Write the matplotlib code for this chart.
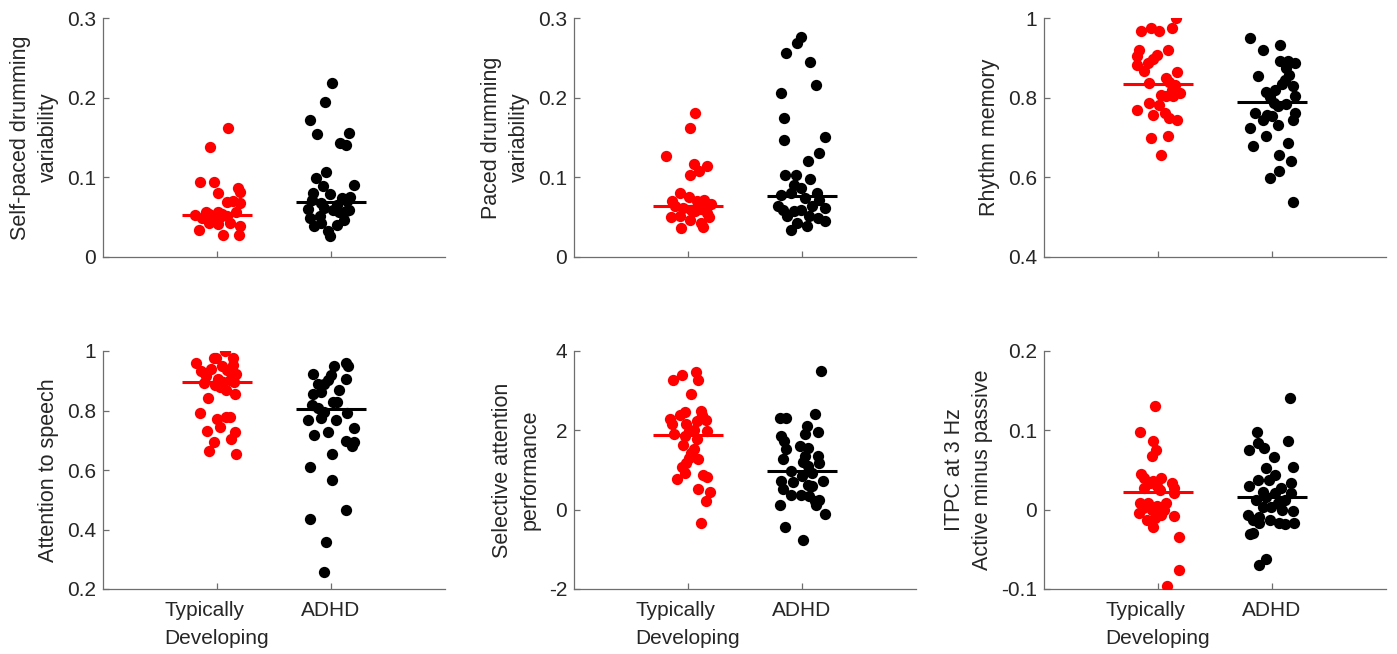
import numpy as np
import matplotlib
matplotlib.use("Agg")
import matplotlib.pyplot as plt

plt.rcParams['font.family'] = ['Liberation Sans', 'DejaVu Sans']
plt.rcParams['axes.unicode_minus'] = False

groups = ["Typically\nDeveloping", "ADHD"]
ylabels = ["Self-paced drumming\nvariability", "Paced drumming\nvariability", "Rhythm memory",
           "Attention to speech", "Selective attention\nperformance", "ITPC at 3 Hz\nActive minus passive"]

# per-participant values (x jitter, y) for each measure
selfpaced_td_x = [0.10, -0.06, -0.15, -0.03, 0.01, 0.18, 0.20, 0.09, 0.14, 0.20, -0.19, -0.10, -0.07, 0.01,
                  0.04, 0.09, 0.17, -0.13, -0.05, 0.02, -0.16, -0.07, 0.01, 0.11, 0.20, 0.05, 0.19, -0.02]
selfpaced_td_y = [0.1615, 0.138, 0.094, 0.094, 0.080, 0.086, 0.082, 0.069, 0.070, 0.068, 0.053, 0.0565, 0.054, 0.057,
                  0.054, 0.051, 0.0565, 0.049, 0.047, 0.049, 0.034, 0.0427, 0.0415, 0.0427, 0.039, 0.027, 0.027, 0.045]
selfpaced_adhd_x = [0.01, -0.05, -0.18, -0.12, 0.16, 0.08, 0.13, -0.04, -0.13, -0.07, 0.20, -0.16, -0.01, 0.10, 0.17,
                    -0.17, -0.09, 0.05, 0.14, -0.20, -0.06, 0.02, 0.16, 0.13, -0.18, -0.10, 0.11, -0.15, 0.05, -0.03,
                    -0.01, 0.07, -0.09]
selfpaced_adhd_y = [0.218, 0.194, 0.1715, 0.155, 0.1556, 0.143, 0.141, 0.107, 0.099, 0.0887, 0.090, 0.080, 0.079, 0.074,
                    0.075, 0.072, 0.0678, 0.0657, 0.0699, 0.0607, 0.0615, 0.0594, 0.0594, 0.0573, 0.049, 0.051, 0.046,
                    0.0385, 0.0406, 0.033, 0.026, 0.056, 0.0427]

paced_td_x = [0.06, 0.02, -0.19, 0.05, 0.17, 0.10, 0.02, -0.07, 0.01, -0.14, 0.08, 0.14, 0.20, -0.11, -0.04, 0.03,
              0.11, 0.17, -0.15, -0.07, 0.02, 0.18, 0.06, -0.06, 0.13, 0.11]
paced_td_y = [0.181, 0.162, 0.127, 0.117, 0.114, 0.108, 0.1025, 0.080, 0.075, 0.070, 0.070, 0.071, 0.066, 0.0636,
              0.0615, 0.0594, 0.0603, 0.0552, 0.050, 0.051, 0.0469, 0.050, 0.0573, 0.0364, 0.0372, 0.0427]
paced_adhd_x = [-0.01, -0.04, -0.14, 0.07, 0.12, -0.18, -0.16, -0.16, 0.20, 0.15, 0.05, -0.15, -0.05, 0.07, -0.07,
                -0.01, -0.18, -0.10, 0.13, 0.03, 0.15, -0.21, -0.17, -0.07, -0.01, 0.09, 0.20, -0.13, 0.06, 0.14,
                0.20, -0.10, 0.04, -0.04]
paced_adhd_y = [0.2757, 0.2686, 0.256, 0.2444, 0.2155, 0.206, 0.175, 0.147, 0.151, 0.131, 0.121, 0.103, 0.103, 0.098,
                0.0908, 0.0866, 0.0782, 0.0803, 0.0803, 0.074, 0.072, 0.0636, 0.0594, 0.0573, 0.0594, 0.0636, 0.0615,
                0.051, 0.0519, 0.049, 0.0448, 0.0343, 0.0385, 0.0427]

rhythm_td_x = [0.16, 0.12, -0.15, -0.06, 0.01, 0.09, -0.17, -0.18, -0.01, -0.04, -0.18, -0.09, -0.12, 0.17, 0.07,
               -0.08, 0.10, 0.15, 0.12, 0.03, 0.07, 0.19, 0.13, -0.08, 0.01, -0.18, 0.06, -0.04, 0.10, 0.17, -0.06,
               0.09, 0.03]
rhythm_td_y = [1.0, 0.975, 0.968, 0.975, 0.968, 0.919, 0.919, 0.904, 0.908, 0.897, 0.881, 0.887, 0.866, 0.864, 0.849,
               0.837, 0.839, 0.833, 0.820, 0.807, 0.803, 0.811, 0.805, 0.787, 0.782, 0.770, 0.762, 0.756, 0.749, 0.743,
               0.700, 0.705, 0.655]
rhythm_adhd_x = [-0.19, 0.07, -0.08, 0.07, 0.14, 0.20, 0.12, -0.12, 0.15, 0.11, 0.09, 0.18, 0.03, -0.05, 0.20, -0.02,
                 0.02, 0.12, 0.05, -0.15, -0.04, 0.20, -0.08, 0.00, 0.18, 0.05, -0.19, -0.05, 0.14, -0.17, 0.06, 0.17,
                 0.06, -0.02, 0.18]
rhythm_adhd_y = [0.95, 0.931, 0.919, 0.891, 0.891, 0.887, 0.874, 0.855, 0.858, 0.845, 0.835, 0.829, 0.820, 0.813, 0.805,
                 0.802, 0.787, 0.785, 0.778, 0.762, 0.757, 0.762, 0.743, 0.753, 0.743, 0.732, 0.724, 0.705, 0.686, 0.679,
                 0.655, 0.642, 0.615, 0.598, 0.537]

speech_td_x = [0.07, -0.18, -0.03, -0.01, 0.14, 0.14, -0.14, -0.05, 0.04, 0.09, 0.17, -0.10, 0.01, 0.05, 0.11, 0.15,
               -0.11, -0.02, 0.03, 0.08, 0.16, -0.08, -0.15, 0.00, 0.08, 0.11, 0.03, -0.09, 0.16, -0.03, 0.12, -0.07,
               0.17]
speech_td_y = [1.0, 0.961, 0.978, 0.975, 0.975, 0.952, 0.933, 0.941, 0.949, 0.935, 0.924, 0.915, 0.907, 0.896, 0.902,
               0.896, 0.893, 0.885, 0.879, 0.868, 0.857, 0.843, 0.792, 0.770, 0.779, 0.779, 0.743, 0.731, 0.728, 0.695,
               0.704, 0.665, 0.654]
speech_adhd_x = [0.13, 0.15, 0.03, -0.16, 0.00, 0.13, -0.03, -0.06, -0.11, 0.07, -0.16, -0.09, 0.02, -0.17, 0.05,
                 -0.11, -0.06, 0.14, -0.20, -0.09, 0.04, 0.20, -0.03, -0.15, 0.13, 0.20, 0.18, 0.01, -0.18, 0.01, 0.13,
                 -0.18, -0.04, -0.06]
speech_adhd_y = [0.96, 0.949, 0.949, 0.922, 0.918, 0.907, 0.901, 0.890, 0.890, 0.870, 0.857, 0.863, 0.829, 0.818, 0.829,
                 0.807, 0.796, 0.792, 0.768, 0.776, 0.768, 0.742, 0.728, 0.717, 0.697, 0.695, 0.680, 0.654, 0.609, 0.568,
                 0.464, 0.435, 0.358, 0.256]

selattn_td_x = [0.07, 0.09, -0.13, -0.05, 0.03, -0.03, 0.11, 0.12, -0.07, -0.16, -0.14, 0.16, 0.08, -0.02, 0.05, 0.17,
                0.01, -0.12, -0.03, 0.08, -0.04, 0.05, 0.03, 0.01, 0.09, -0.02, -0.05, -0.03, 0.13, 0.17, -0.10, 0.09,
                0.19, 0.16, 0.11]
selattn_td_y = [3.48, 3.26, 3.27, 3.39, 2.91, 2.47, 2.49, 2.38, 2.38, 2.29, 2.15, 2.27, 2.23, 2.15, 2.02, 1.98, 1.98,
                1.90, 1.85, 1.77, 1.62, 1.52, 1.43, 1.31, 1.27, 1.18, 1.07, 0.93, 0.87, 0.82, 0.785, 0.525, 0.44, 0.213,
                -0.342]
selattn_adhd_x = [0.17, 0.11, -0.19, -0.14, 0.04, 0.14, 0.03, -0.18, -0.16, -0.02, 0.05, -0.14, 0.14, 0.03, -0.17, 0.01,
                  0.15, 0.05, -0.10, 0.09, 0.00, -0.18, -0.08, 0.05, 0.18, 0.09, -0.17, -0.10, -0.01, 0.06, 0.11, 0.15,
                  0.12, -0.19, 0.20, -0.15, 0.01]
selattn_adhd_y = [3.495, 2.40, 2.30, 2.30, 2.11, 1.96, 1.91, 1.85, 1.73, 1.60, 1.56, 1.52, 1.35, 1.35, 1.27, 1.20, 1.18,
                  1.10, 0.97, 0.93, 0.84, 0.72, 0.69, 0.63, 0.72, 0.59, 0.51, 0.38, 0.38, 0.34, 0.21, 0.24, 0.13, 0.13,
                  -0.10, -0.44, -0.755]

itpc_td_x = [-0.03, -0.16, -0.04, -0.02, -0.05, -0.15, -0.12, -0.04, 0.03, -0.07, 0.12, -0.01, 0.14, -0.12, 0.02, 0.14,
             -0.16, -0.09, 0.07, -0.01, -0.13, -0.05, 0.05, -0.17, 0.03, 0.14, -0.10, -0.03, -0.04, 0.18, 0.18, 0.08]
itpc_td_y = [0.131, 0.098, 0.086, 0.075, 0.068, 0.045, 0.0395, 0.036, 0.040, 0.0332, 0.033, 0.030, 0.027, 0.027, 0.0249,
             0.021, 0.009, 0.009, 0.0081, 0.0052, 0.0018, -0.0003, -0.0003, -0.004, -0.0066, -0.0076, -0.0128, -0.0107,
             -0.022, -0.035, -0.0757, -0.0966]
itpc_adhd_x = [0.16, -0.13, 0.14, -0.12, -0.07, -0.20, 0.02, -0.05, 0.18, 0.03, -0.12, -0.03, 0.17, -0.20, 0.08, -0.08,
               0.03, 0.17, -0.05, -0.14, 0.11, 0.05, -0.08, -0.01, 0.18, 0.09, -0.21, -0.11, -0.02, -0.17, 0.06, 0.11,
               0.19, -0.11, -0.19, -0.17, -0.05, -0.11]
itpc_adhd_y = [0.141, 0.098, 0.0865, 0.0835, 0.0772, 0.0751, 0.066, 0.052, 0.054, 0.0437, 0.0374, 0.0374, 0.034, 0.0298,
               0.027, 0.0228, 0.0207, 0.0207, 0.0165, 0.0123, 0.0123, 0.0081, 0.0039, 0.0039, -0.0011, -0.0003, -0.0066,
               -0.0087, -0.0128, -0.0128, -0.0162, -0.0179, -0.0171, -0.0162, -0.0304, -0.0296, -0.0623, -0.0694]

# group summary lines (TD, ADHD)
centers = [[0.0523, 0.069], [0.0636, 0.077], [0.8335, 0.790],
           [0.896, 0.806], [1.888, 0.97], [0.0219, 0.0165]]

ylims = [(0, 0.3), (0, 0.3), (0.4, 1.0), (0.2, 1.0), (-2, 4), (-0.1, 0.2)]
yticks = [[0, 0.1, 0.2, 0.3], [0, 0.1, 0.2, 0.3], [0.4, 0.6, 0.8, 1.0],
          [0.2, 0.4, 0.6, 0.8, 1.0], [-2, 0, 2, 4], [-0.1, 0, 0.1, 0.2]]

panels = [
    (selfpaced_td_x, selfpaced_td_y, selfpaced_adhd_x, selfpaced_adhd_y),
    (paced_td_x, paced_td_y, paced_adhd_x, paced_adhd_y),
    (rhythm_td_x, rhythm_td_y, rhythm_adhd_x, rhythm_adhd_y),
    (speech_td_x, speech_td_y, speech_adhd_x, speech_adhd_y),
    (selattn_td_x, selattn_td_y, selattn_adhd_x, selattn_adhd_y),
    (itpc_td_x, itpc_td_y, itpc_adhd_x, itpc_adhd_y),
]

W, H = 1397, 654
fig = plt.figure(figsize=(W / 100, H / 100), dpi=100)

lefts = [103, 574, 1044]
tops = [18, 351]
bottoms = [257, 589]
ax_w = 342

axis_col = '#6e6e6e'
text_col = '#262626'
colors = ['#ff0000', '#000000']


def fmt(v):
    return f"{v:g}"


for i in range(6):
    r, c = divmod(i, 3)
    ax = fig.add_axes([lefts[c] / W, 1 - bottoms[r] / H, ax_w / W, (bottoms[r] - tops[r]) / H])
    tdx, tdy, adx, ady = panels[i]
    ax.scatter(1 + np.array(tdx), tdy, s=66, color=colors[0], linewidths=0, zorder=3)
    ax.scatter(2 + np.array(adx), ady, s=66, color=colors[1], linewidths=0, zorder=3)
    for g in range(2):
        ax.plot([g + 1 - 0.31, g + 1 + 0.31], [centers[i][g]] * 2, color=colors[g], lw=2.2,
                solid_capstyle='butt', zorder=4)
    ax.set_xlim(0, 3)
    ax.set_ylim(*ylims[i])
    ax.set_yticks(yticks[i])
    ax.set_yticklabels([fmt(v) for v in yticks[i]])
    ax.set_xticks([1, 2])
    ax.tick_params(direction='in', length=4, width=0.9, color=axis_col, labelcolor=text_col,
                   labelsize=15)
    ax.tick_params(axis='y', pad=5)
    ax.tick_params(axis='x', pad=9)
    if r == 1:
        ax.set_xticklabels(groups)
        for t in ax.get_xticklabels():
            t.set_multialignment('left')
            t.set_linespacing(1.6)
    else:
        ax.set_xticklabels([])
    for side in ['top', 'right']:
        ax.spines[side].set_visible(False)
    for side in ['left', 'bottom']:
        ax.spines[side].set_color(axis_col)
        ax.spines[side].set_linewidth(0.9)
    ax.set_ylabel(ylabels[i], fontsize=15.5, color=text_col, labelpad=6, linespacing=1.4)
    ax.set_facecolor('none')

fig.savefig('out.png', dpi=100, facecolor='white')
